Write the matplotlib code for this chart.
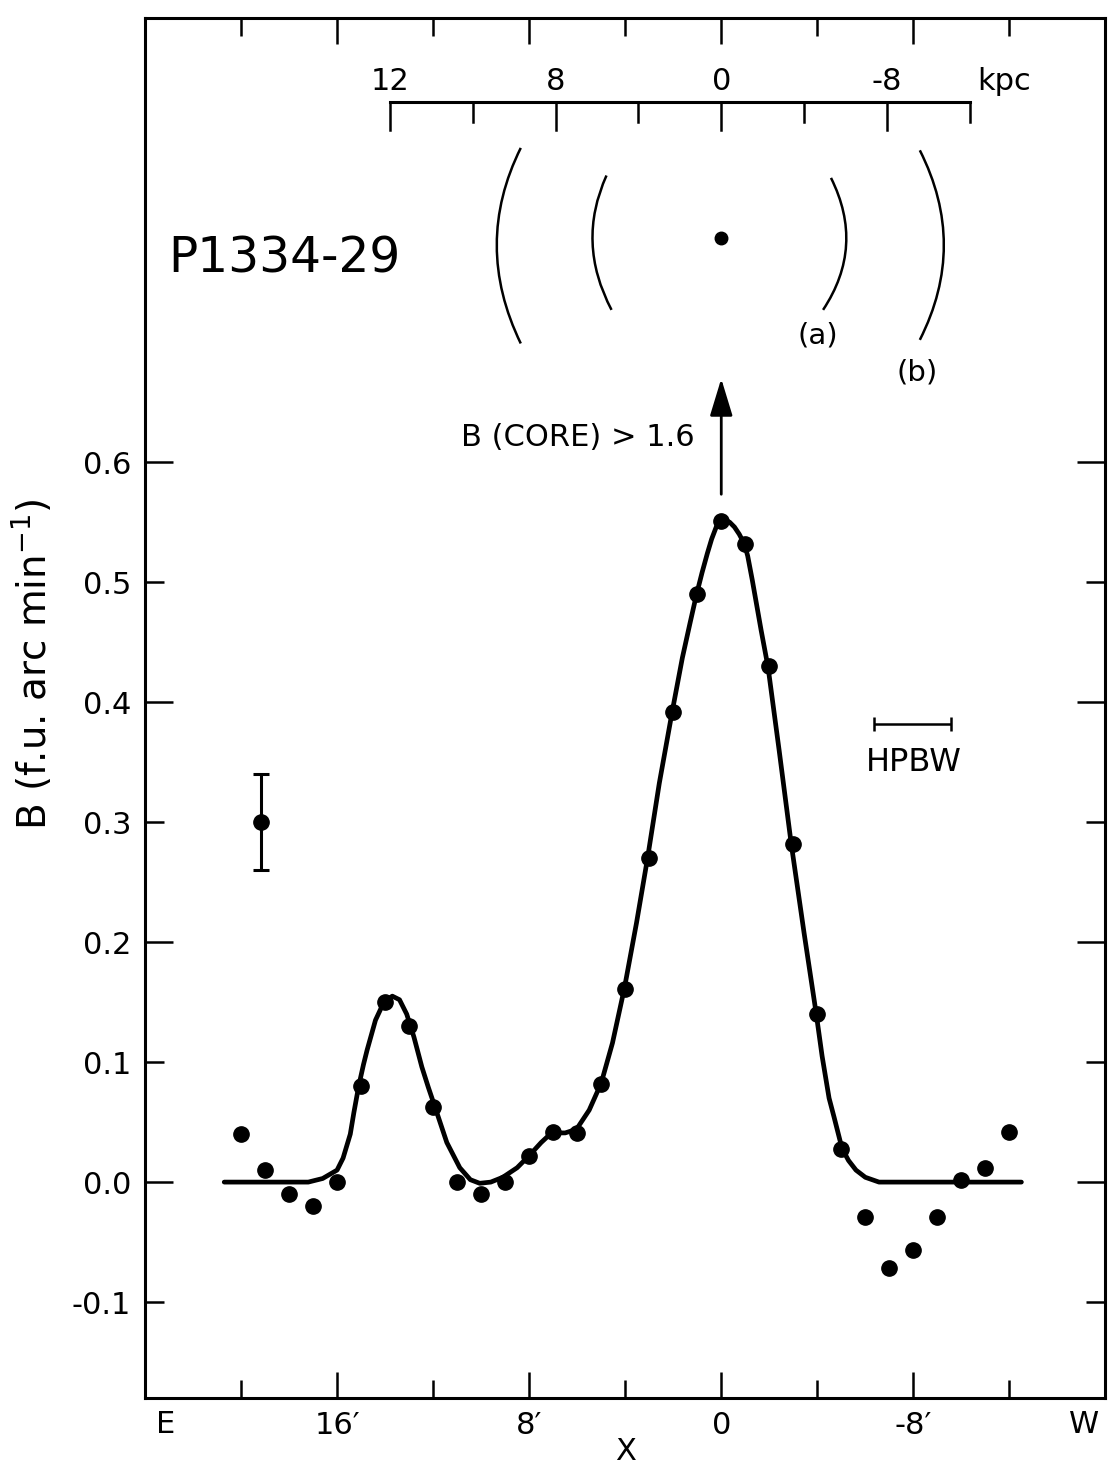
import matplotlib
matplotlib.use("Agg")
import matplotlib.pyplot as plt
from matplotlib.path import Path
from matplotlib.patches import PathPatch

plt.rcParams['font.family'] = ['DejaVu Sans']
plt.rcParams['mathtext.default'] = 'regular'

# measured brightness, one point per arcmin (E positive, W negative)
pos_arcmin = [20, 19, 18, 17, 16, 15, 14, 13, 12, 11, 10, 9, 8, 7, 6, 5, 4, 3, 2, 1, 0,
              -1, -2, -3, -4, -5, -6, -7, -8, -9, -10, -11, -12]
brightness = [0.04, 0.01, -0.01, -0.02, 0.0, 0.08, 0.15, 0.13, 0.063, 0.0, -0.01, 0.0,
              0.022, 0.042, 0.041, 0.082, 0.161, 0.27, 0.392, 0.49, 0.551,
              0.532, 0.43, 0.282, 0.14, 0.028, -0.029, -0.072, -0.057, -0.029, 0.002, 0.012, 0.042]

# model curve drawn through the points
curve_x = [20.7, 17.2, 16.6, 16.0, 15.75, 15.45, 15.3, 15.1, 14.9, 14.75, 14.4, 14.05, 13.7,
           13.4, 13.1, 12.8, 12.47, 12.2, 11.93, 11.43, 10.89, 10.45, 10.06, 9.6, 9.1, 8.5,
           7.98, 7.5, 7.07, 6.5, 6.03, 5.5, 5.0, 4.53, 4.03, 3.53, 3.07, 2.58, 2.04, 1.62,
           1.3, 1.04, 0.8, 0.58, 0.4, 0.21, 0.05, -0.15, -0.35, -0.55, -0.75, -0.96, -1.1,
           -1.29, -1.66, -1.95, -2.41, -2.91, -3.45, -3.95, -4.2, -4.49, -4.7, -5.03, -5.3,
           -5.61, -6.0, -6.57, -12.5]
curve_y = [0.0, 0.0, 0.003, 0.01, 0.02, 0.04, 0.058, 0.08, 0.098, 0.11, 0.135, 0.150, 0.155,
           0.152, 0.140, 0.121, 0.096, 0.079, 0.063, 0.033, 0.012, 0.002, -0.001, 0.0, 0.004, 0.012,
           0.0225, 0.033, 0.041, 0.041, 0.044, 0.06, 0.0825, 0.116, 0.162, 0.216, 0.27, 0.3325, 0.3925, 0.437,
           0.466, 0.489, 0.508, 0.524, 0.536, 0.546, 0.551, 0.552, 0.550, 0.546, 0.540, 0.532, 0.522,
           0.502, 0.46, 0.429, 0.36, 0.2825, 0.2075, 0.141, 0.105, 0.07, 0.054, 0.028, 0.018,
           0.01, 0.004, 0.0, 0.0]

# typical error bar
err_x, err_y, err_size = 19.15, 0.30, 0.04

# linear scale inset (kpc)
kpc_tick_x = [13.8, 10.35, 6.9, 3.45, 0.0, -3.45, -6.9, -10.35]
kpc_long = [True, False, True, False, True, False, True, False]
kpc_label_x = [13.8, 6.9, 0.0, -6.9]
kpc_labels = ['12', '8', '0', '-8']

# source sketch: arcs (top, bulge, bottom) in plot coords
arcs = [
    [(8.35, 0.862), (9.35, 0.781), (8.35, 0.699)],
    [(4.78, 0.839), (5.36, 0.783), (4.57, 0.727)],
    [(-4.57, 0.837), (-5.2, 0.781), (-4.24, 0.727)],
    [(-8.27, 0.860), (-9.27, 0.781), (-8.27, 0.702)],
]

x_major = [16, 8, 0, -8]
x_major_labels = ["16\u2032", "8\u2032", "0", "-8\u2032"]
x_minor = [20, 12, 4, -4, -12]
y_major = [0.0, 0.2, 0.4, 0.6]
y_minor = [-0.1, 0.1, 0.3, 0.5]

fig = plt.figure(figsize=(11.11, 14.67), dpi=100)
ax = fig.add_axes([0.1305, 0.047, 0.8645, 0.9405])

ax.plot(curve_x, curve_y, color='black', lw=3.4, solid_joinstyle='round', solid_capstyle='round')
ax.plot(pos_arcmin, brightness, 'o', color='black', ms=11)
ax.errorbar([err_x], [err_y], yerr=[err_size], fmt='o', color='black', ms=11,
            elinewidth=2.2, capsize=6, capthick=2.2)

ax.set_xlim(24, -16)
ax.set_ylim(-0.18, 0.97)

# ticks
ax.set_xticks(x_major)
ax.set_xticklabels(x_major_labels)
ax.set_xticks(x_minor, minor=True)
ax.set_yticks(y_major + y_minor)
ax.set_yticklabels(['%.1f' % v for v in y_major + y_minor])
ax.tick_params(axis='x', which='major', direction='in', length=19, width=1.8,
               top=True, bottom=True, labelsize=22, pad=9)
ax.tick_params(axis='x', which='minor', direction='in', length=13, width=1.8,
               top=True, bottom=True)
ax.tick_params(axis='y', which='major', direction='in', length=17, width=1.8,
               left=True, right=True, labelsize=22, pad=10)
# longer ticks on even tenths
for t in ax.yaxis.get_major_ticks():
    if round(t.get_loc() * 10) % 2 == 0:
        t.tick1line.set_markersize(20)
        t.tick2line.set_markersize(20)
    else:
        t.tick1line.set_markersize(14)
        t.tick2line.set_markersize(14)
for s in ax.spines.values():
    s.set_linewidth(2.2)

xt = ax.get_xaxis_transform()
ax.text(23.15, -0.009, 'E', transform=xt, ha='center', va='top', fontsize=22)
ax.text(-15.1, -0.009, 'W', transform=xt, ha='center', va='top', fontsize=22)
ax.text(4.0, -0.039, 'X', transform=xt, ha='center', va='center', fontsize=22)

fig.text(0.029, 0.547, 'B (f.u. arc min$^{-1}$)', rotation=90, ha='center', va='center', fontsize=28)

# source name
ax.text(23.05, 0.77, 'P1334-29', ha='left', va='center', fontsize=35)

# kpc scale bar
ax.plot([kpc_tick_x[0], kpc_tick_x[-1]], [0.9, 0.9], color='black', lw=2.2)
for x, lg in zip(kpc_tick_x, kpc_long):
    ax.plot([x, x], [0.9, 0.877 if lg else 0.884], color='black', lw=1.8)
for x, lab in zip(kpc_label_x, kpc_labels):
    ax.text(x, 0.917, lab, ha='center', va='center', fontsize=22)
ax.text(-11.8, 0.917, 'kpc', ha='center', va='center', fontsize=22)

# sketch of the source
for top, mid, bot in arcs:
    ctrl = (2 * mid[0] - (top[0] + bot[0]) / 2, 2 * mid[1] - (top[1] + bot[1]) / 2)
    ax.add_patch(PathPatch(Path([top, ctrl, bot], [Path.MOVETO, Path.CURVE3, Path.CURVE3]),
                           fill=False, lw=1.8, color='black'))
ax.plot([0], [0.787], 'o', color='black', ms=9)
ax.text(-4.03, 0.706, '(a)', ha='center', va='center', fontsize=21)
ax.text(-8.15, 0.675, '(b)', ha='center', va='center', fontsize=21)

# core arrow
ax.annotate('', xy=(0, 0.672), xytext=(0, 0.571),
            arrowprops=dict(arrowstyle='-|>,head_length=1.15,head_width=0.35',
                            mutation_scale=20, color='black', lw=2.0))
ax.text(1.1, 0.621, 'B (CORE) > 1.6', ha='right', va='center', fontsize=22)

# beam width
ax.errorbar([-7.96], [0.382], xerr=[1.6], fmt='none', ecolor='black', elinewidth=1.8,
            capsize=4.7, capthick=1.8)
ax.text(-8.0, 0.35, 'HPBW', ha='center', va='center', fontsize=23)

fig.savefig('out.png', dpi=100)
